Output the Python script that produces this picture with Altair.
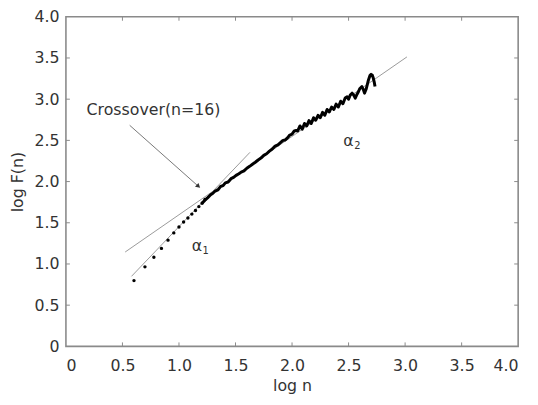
import altair as alt
import pandas as pd

# ---- data ----
dot_logn = [0.602, 0.699, 0.778, 0.845, 0.903, 0.954, 1.000, 1.041, 1.079, 1.114, 1.146, 1.176, 1.204, 1.230]
dot_logF = [0.798, 0.965, 1.081, 1.189, 1.289, 1.377, 1.449, 1.509, 1.557, 1.605, 1.648, 1.696, 1.737, 1.784]

curve_logn = [1.204, 1.23, 1.255, 1.28, 1.30, 1.32, 1.345, 1.367, 1.39, 1.41, 1.435, 1.46, 1.483, 1.505,
              1.53, 1.55, 1.575, 1.60, 1.625, 1.65, 1.675, 1.70, 1.725, 1.75, 1.775, 1.80, 1.825, 1.85,
              1.875, 1.90, 1.92, 1.94, 1.96, 1.98, 2.00, 2.02, 2.036, 2.05, 2.07, 2.09, 2.11, 2.13, 2.15,
              2.17, 2.19, 2.21, 2.23, 2.25, 2.27, 2.29, 2.31, 2.33, 2.35, 2.37, 2.39, 2.41, 2.43, 2.45,
              2.47, 2.487, 2.50, 2.515, 2.531, 2.545, 2.559, 2.575, 2.588, 2.60, 2.618, 2.63, 2.641,
              2.655, 2.676, 2.69, 2.699, 2.71, 2.719, 2.728, 2.734]
curve_logF = [1.737, 1.775, 1.805, 1.84, 1.858, 1.885, 1.90, 1.94, 1.95, 1.985, 1.995, 2.035, 2.05, 2.075,
              2.095, 2.115, 2.13, 2.162, 2.185, 2.21, 2.235, 2.262, 2.285, 2.318, 2.338, 2.37, 2.395, 2.43,
              2.445, 2.475, 2.50, 2.505, 2.53, 2.565, 2.575, 2.615, 2.62, 2.615, 2.675, 2.635, 2.705, 2.675,
              2.74, 2.705, 2.775, 2.745, 2.805, 2.775, 2.84, 2.805, 2.875, 2.845, 2.905, 2.875, 2.94, 2.905,
              2.975, 2.945, 3.015, 3.03, 3.00, 3.05, 3.073, 3.05, 3.013, 3.06, 3.093, 3.13, 3.153, 3.12, 3.073,
              3.12, 3.234, 3.29, 3.301, 3.29, 3.253, 3.20, 3.153]

fit_name = ["alpha1", "alpha1", "alpha2", "alpha2"]
fit_logn = [0.58, 1.628, 0.524, 3.016]
fit_logF = [0.85, 2.355, 1.145, 3.513]

tick_values = [0, 0.5, 1.0, 1.5, 2.0, 2.5, 3.0, 3.5, 4.0]
inner_ticks = [0.5, 1.0, 1.5, 2.0, 2.5, 3.0, 3.5]

arrow_from = (0.564, 2.683)
arrow_to = (1.172, 1.942)

W, H = 458.3, 334
GRAY = "#999999"
FRAME = "#8a8a8a"
TXT = "#333333"
FONT = "DejaVu Sans"

xs = alt.Scale(domain=[0, 4], nice=False, zero=False)
ys = alt.Scale(domain=[0, 4], nice=False, zero=False)
lbl = "datum.value == 0 ? '0' : format(datum.value, '.1f')"

dots = pd.DataFrame({"x": dot_logn, "y": dot_logF})
curve = pd.DataFrame({"x": curve_logn, "y": curve_logF})
fits = pd.DataFrame({"g": fit_name, "x": fit_logn, "y": fit_logF})
ticks = pd.DataFrame({"t": inner_ticks})
arrow = pd.DataFrame({"x": [arrow_from[0]], "y": [arrow_from[1]], "x2": [arrow_to[0]], "y2": [arrow_to[1]]})
head = pd.DataFrame({"x": [arrow_to[0]], "y": [arrow_to[1]]})

base_x = alt.X("x:Q", scale=xs, axis=alt.Axis(values=tick_values, labelExpr=lbl, title="log n",
                                               titleX=W / 2, titleY=40, titleBaseline="middle"))
base_y = alt.Y("y:Q", scale=ys, axis=alt.Axis(values=tick_values, labelExpr=lbl, title="log F(n)",
                                               titleX=-49, titleY=H / 2, titleBaseline="middle",
                                               titleAlign="center", titleAngle=-90))

fit_layer = alt.Chart(fits).mark_line(color=GRAY, strokeWidth=1).encode(x=base_x, y=base_y, detail="g:N")
dot_layer = alt.Chart(dots).mark_circle(color="black", size=12, opacity=1).encode(x="x:Q", y="y:Q")
curve_layer = alt.Chart(curve).mark_line(color="black", strokeWidth=3, strokeJoin="round").encode(
    x="x:Q", y="y:Q", order=alt.Order("x:Q"))

arrow_layer = alt.Chart(arrow).mark_rule(color="#777777", strokeWidth=1).encode(
    x="x:Q", y="y:Q", x2="x2:Q", y2="y2:Q")
head_layer = alt.Chart(head).mark_point(shape="triangle-up", filled=True, color="#333333",
                                        size=28, angle=131.6, opacity=1).encode(x="x:Q", y="y:Q")

texts = pd.DataFrame({
    "x": [0.775, 1.158, 2.499],
    "y": [2.862, 1.217, 2.495],
    "s": ["Crossover(n=16)", "\u03b1", "\u03b1"],
})
subs = pd.DataFrame({"x": [1.158, 2.499], "y": [1.217, 2.495], "s": ["1", "2"]})
text_layer = alt.Chart(texts).mark_text(font=FONT, fontSize=16, color=TXT).encode(
    x="x:Q", y="y:Q", text="s:N")
sub_layer = alt.Chart(subs).mark_text(font=FONT, fontSize=10, color=TXT, dx=9, dy=5).encode(
    x="x:Q", y="y:Q", text="s:N")

tb = alt.Chart(ticks).mark_rule(color=FRAME, strokeWidth=1).encode(
    x=alt.X("t:Q", scale=xs), y=alt.value(H), y2=alt.value(H - 4))
tt = alt.Chart(ticks).mark_rule(color=FRAME, strokeWidth=1).encode(
    x=alt.X("t:Q", scale=xs), y=alt.value(0), y2=alt.value(4))
tl = alt.Chart(ticks).mark_rule(color=FRAME, strokeWidth=1).encode(
    y=alt.Y("t:Q", scale=ys), x=alt.value(0), x2=alt.value(4))
tr = alt.Chart(ticks).mark_rule(color=FRAME, strokeWidth=1).encode(
    y=alt.Y("t:Q", scale=ys), x=alt.value(W), x2=alt.value(W - 4))

chart = alt.layer(
    fit_layer, tb, tt, tl, tr, arrow_layer, head_layer, dot_layer, curve_layer, text_layer, sub_layer
).properties(
    width=W, height=H,
    autosize=alt.AutoSizeParams(type="none"),
    padding={"left": 58.7, "top": 6.3, "right": 12, "bottom": 48},
).configure_view(
    stroke=FRAME, strokeWidth=1.6
).configure_axis(
    domain=False, ticks=False, tickSize=0, grid=False,
    labelFont=FONT, labelFontSize=16, labelColor=TXT,
    titleFont=FONT, titleFontSize=16, titleColor=TXT, titleFontWeight="normal",
).configure_axisX(
    labelPadding=11
).configure_axisY(
    labelPadding=7
)

chart.save("out.html", embed_options={"renderer": "svg", "actions": False})
